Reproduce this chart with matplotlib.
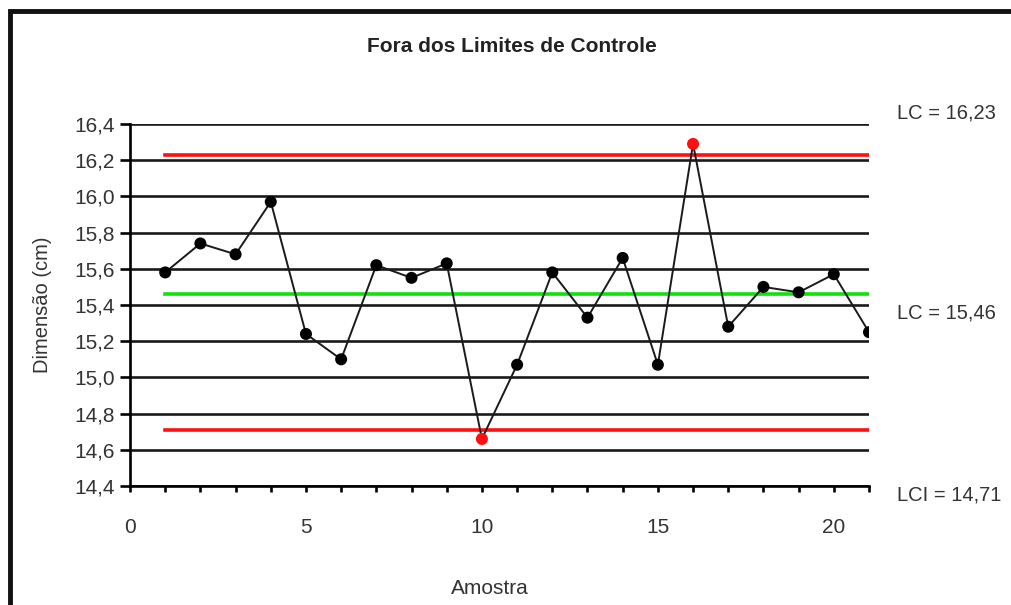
import matplotlib
matplotlib.use("Agg")
import matplotlib.pyplot as plt
from matplotlib.patches import Rectangle

plt.rcParams['font.family'] = ['Liberation Sans Narrow', 'Liberation Sans', 'DejaVu Sans']

samples = list(range(1, 22))
values = [15.58, 15.74, 15.68, 15.97, 15.24, 15.10, 15.62, 15.55, 15.63, 14.66,
          15.07, 15.58, 15.33, 15.66, 15.07, 16.29, 15.28, 15.50, 15.47, 15.57, 15.25]
ucl = 16.23
cl = 15.46
lcl = 14.71
limit_labels = ["LC = 16,23", "LC = 15,46", "LCI = 14,71"]
yticks = [14.4, 14.6, 14.8, 15.0, 15.2, 15.4, 15.6, 15.8, 16.0, 16.2, 16.4]
xticks = [0, 5, 10, 15, 20]

W, H = 1012, 605
fig = plt.figure(figsize=(W / 100, H / 100), dpi=100)
fig.patches.append(Rectangle((10 / W, -0.1), 1.2, 1 - 10.5 / H + 0.1, transform=fig.transFigure,
                             fill=False, edgecolor='#111111', linewidth=3.5))

ax = fig.add_axes([130 / W, 1 - 486 / H, (869 - 130) / W, (486 - 124) / H])
ax.set_xlim(0, 21)
ax.set_ylim(14.4, 16.4)

for yv in yticks:
    ax.axhline(yv, color='#1a1a1a', lw=1.9, zorder=1)

ax.plot([1, 21], [ucl, ucl], color='#ff1010', lw=2.6, zorder=2)
ax.plot([1, 21], [lcl, lcl], color='#ff1010', lw=2.6, zorder=2)
ax.plot([1, 21], [cl, cl], color='#10e010', lw=2.6, zorder=2)

ax.plot(samples, values, color='#1a1a1a', lw=1.4, zorder=3)
colors = ['#ff1010' if (v > ucl or v < lcl) else '#000000' for v in values]
ax.scatter(samples, values, s=75, c=colors, zorder=4, linewidths=0)

for s in ['top', 'right']:
    ax.spines[s].set_visible(False)
ax.spines['left'].set_linewidth(1.9)
ax.spines['bottom'].set_linewidth(1.9)

ax.set_yticks(yticks)
ax.set_yticklabels([f"{v:.1f}".replace('.', ',') for v in yticks])
ax.set_xticks(xticks)
ax.set_xticks(range(0, 22), minor=True)
ax.tick_params(axis='y', direction='out', length=7, width=1.9, labelsize=15,
               labelcolor='#333333', pad=4)
ax.tick_params(axis='x', which='both', direction='out', length=4, width=1.9,
               labelsize=15, labelcolor='#333333', pad=19)

ax.set_ylabel("Dimensão (cm)", fontsize=14.5, color='#333333', labelpad=16)
fig.text(490 / W, 1 - 588 / H, "Amostra", fontsize=15, color='#333333', ha='center', va='center')
fig.text(512 / W, 1 - 47 / H, "Fora dos Limites de Controle", fontsize=15, fontweight='bold',
         color='#222222', ha='center', va='center')

label_y = [113, 313, 495]
for txt, yy in zip(limit_labels, label_y):
    fig.text(897 / W, 1 - yy / H, txt, fontsize=14.5, color='#333333', ha='left', va='center')

fig.savefig("out.png", dpi=100)
